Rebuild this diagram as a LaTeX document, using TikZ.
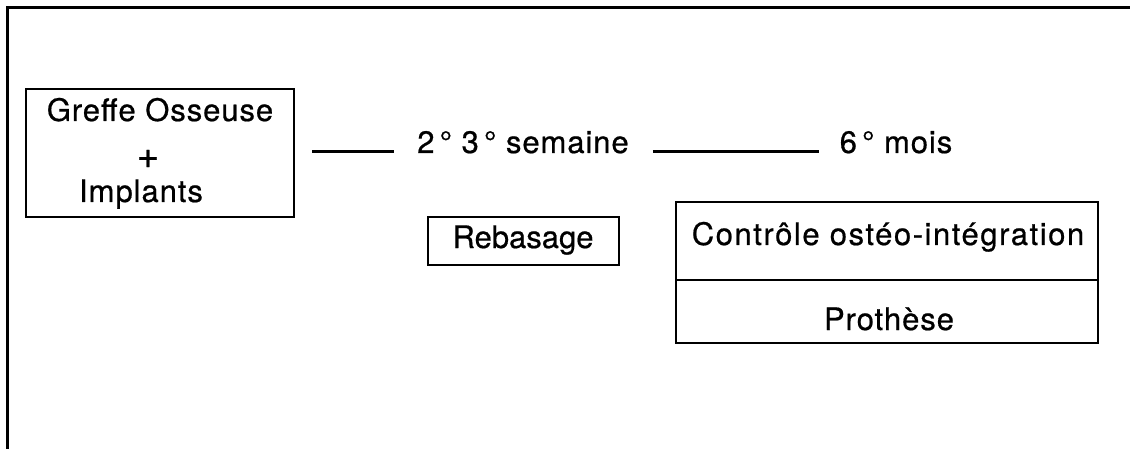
\documentclass[tikz,border=0pt]{standalone}
\usepackage{fontspec}
\setmainfont[LetterSpace=3,FakeBold=0.6]{TeX Gyre Heros}
\usetikzlibrary{positioning}

\begin{document}
\begin{tikzpicture}[x=1pt,y=-1pt,
  box/.style={draw,line width=2.2pt,inner sep=0pt,outer sep=0pt},
  txt/.style={anchor=base,inner sep=0pt,font=\fontsize{31}{36}\selectfont},
  rule/.style={line width=3pt}]

\useasboundingbox (0,0) rectangle (1130,449);

% frame
\draw [line width=3pt] (7,449) -- (7,8) -- (1130,8);

% boxes
\node [box,minimum width=268pt,minimum height=128pt] (greffe) at (160,153) {};
\node [box,minimum width=191pt,minimum height=48pt] (rebasage) at (523.5,241) {};
\node [box,minimum width=422pt,minimum height=78pt] (controle) at (887,241) {};
\node [box,minimum width=422pt,minimum height=63pt,below=0pt of controle] (prothese) {};

% texts
\node [txt] (greffe1) at (160,121) {Greffe Osseuse};
\node [txt,font=\fontsize{38}{40}\selectfont] (greffe2) at (148,168) {+};
\node [txt] (greffe3) at (141,202) {Implants};
\node [txt,font=\fontsize{31}{36}\selectfont\addfontfeature{LetterSpace=0}] (rebas) at (523,248) {Rebasage};
\node [txt,font=\fontsize{31}{36}\selectfont\addfontfeature{LetterSpace=5}] (ctrl) at (888,245) {Contrôle ostéo-intégration};
\node [txt] (proth) at (889,330) {Prothèse};

% time line
\node [txt] (sem) at (523,153) {2\,° 3\,° semaine};
\node [txt] (mois) at (896,153) {6\,° mois};

\draw [rule] ([xshift=18pt,yshift=1.5pt]greffe.east |- sem.base) -- ([xshift=-23pt,yshift=1.5pt]sem.base west);
\draw [rule] ([xshift=24pt,yshift=1.5pt]sem.base east) -- ([xshift=-21pt,yshift=1.5pt]mois.base west);

\end{tikzpicture}
\end{document}
